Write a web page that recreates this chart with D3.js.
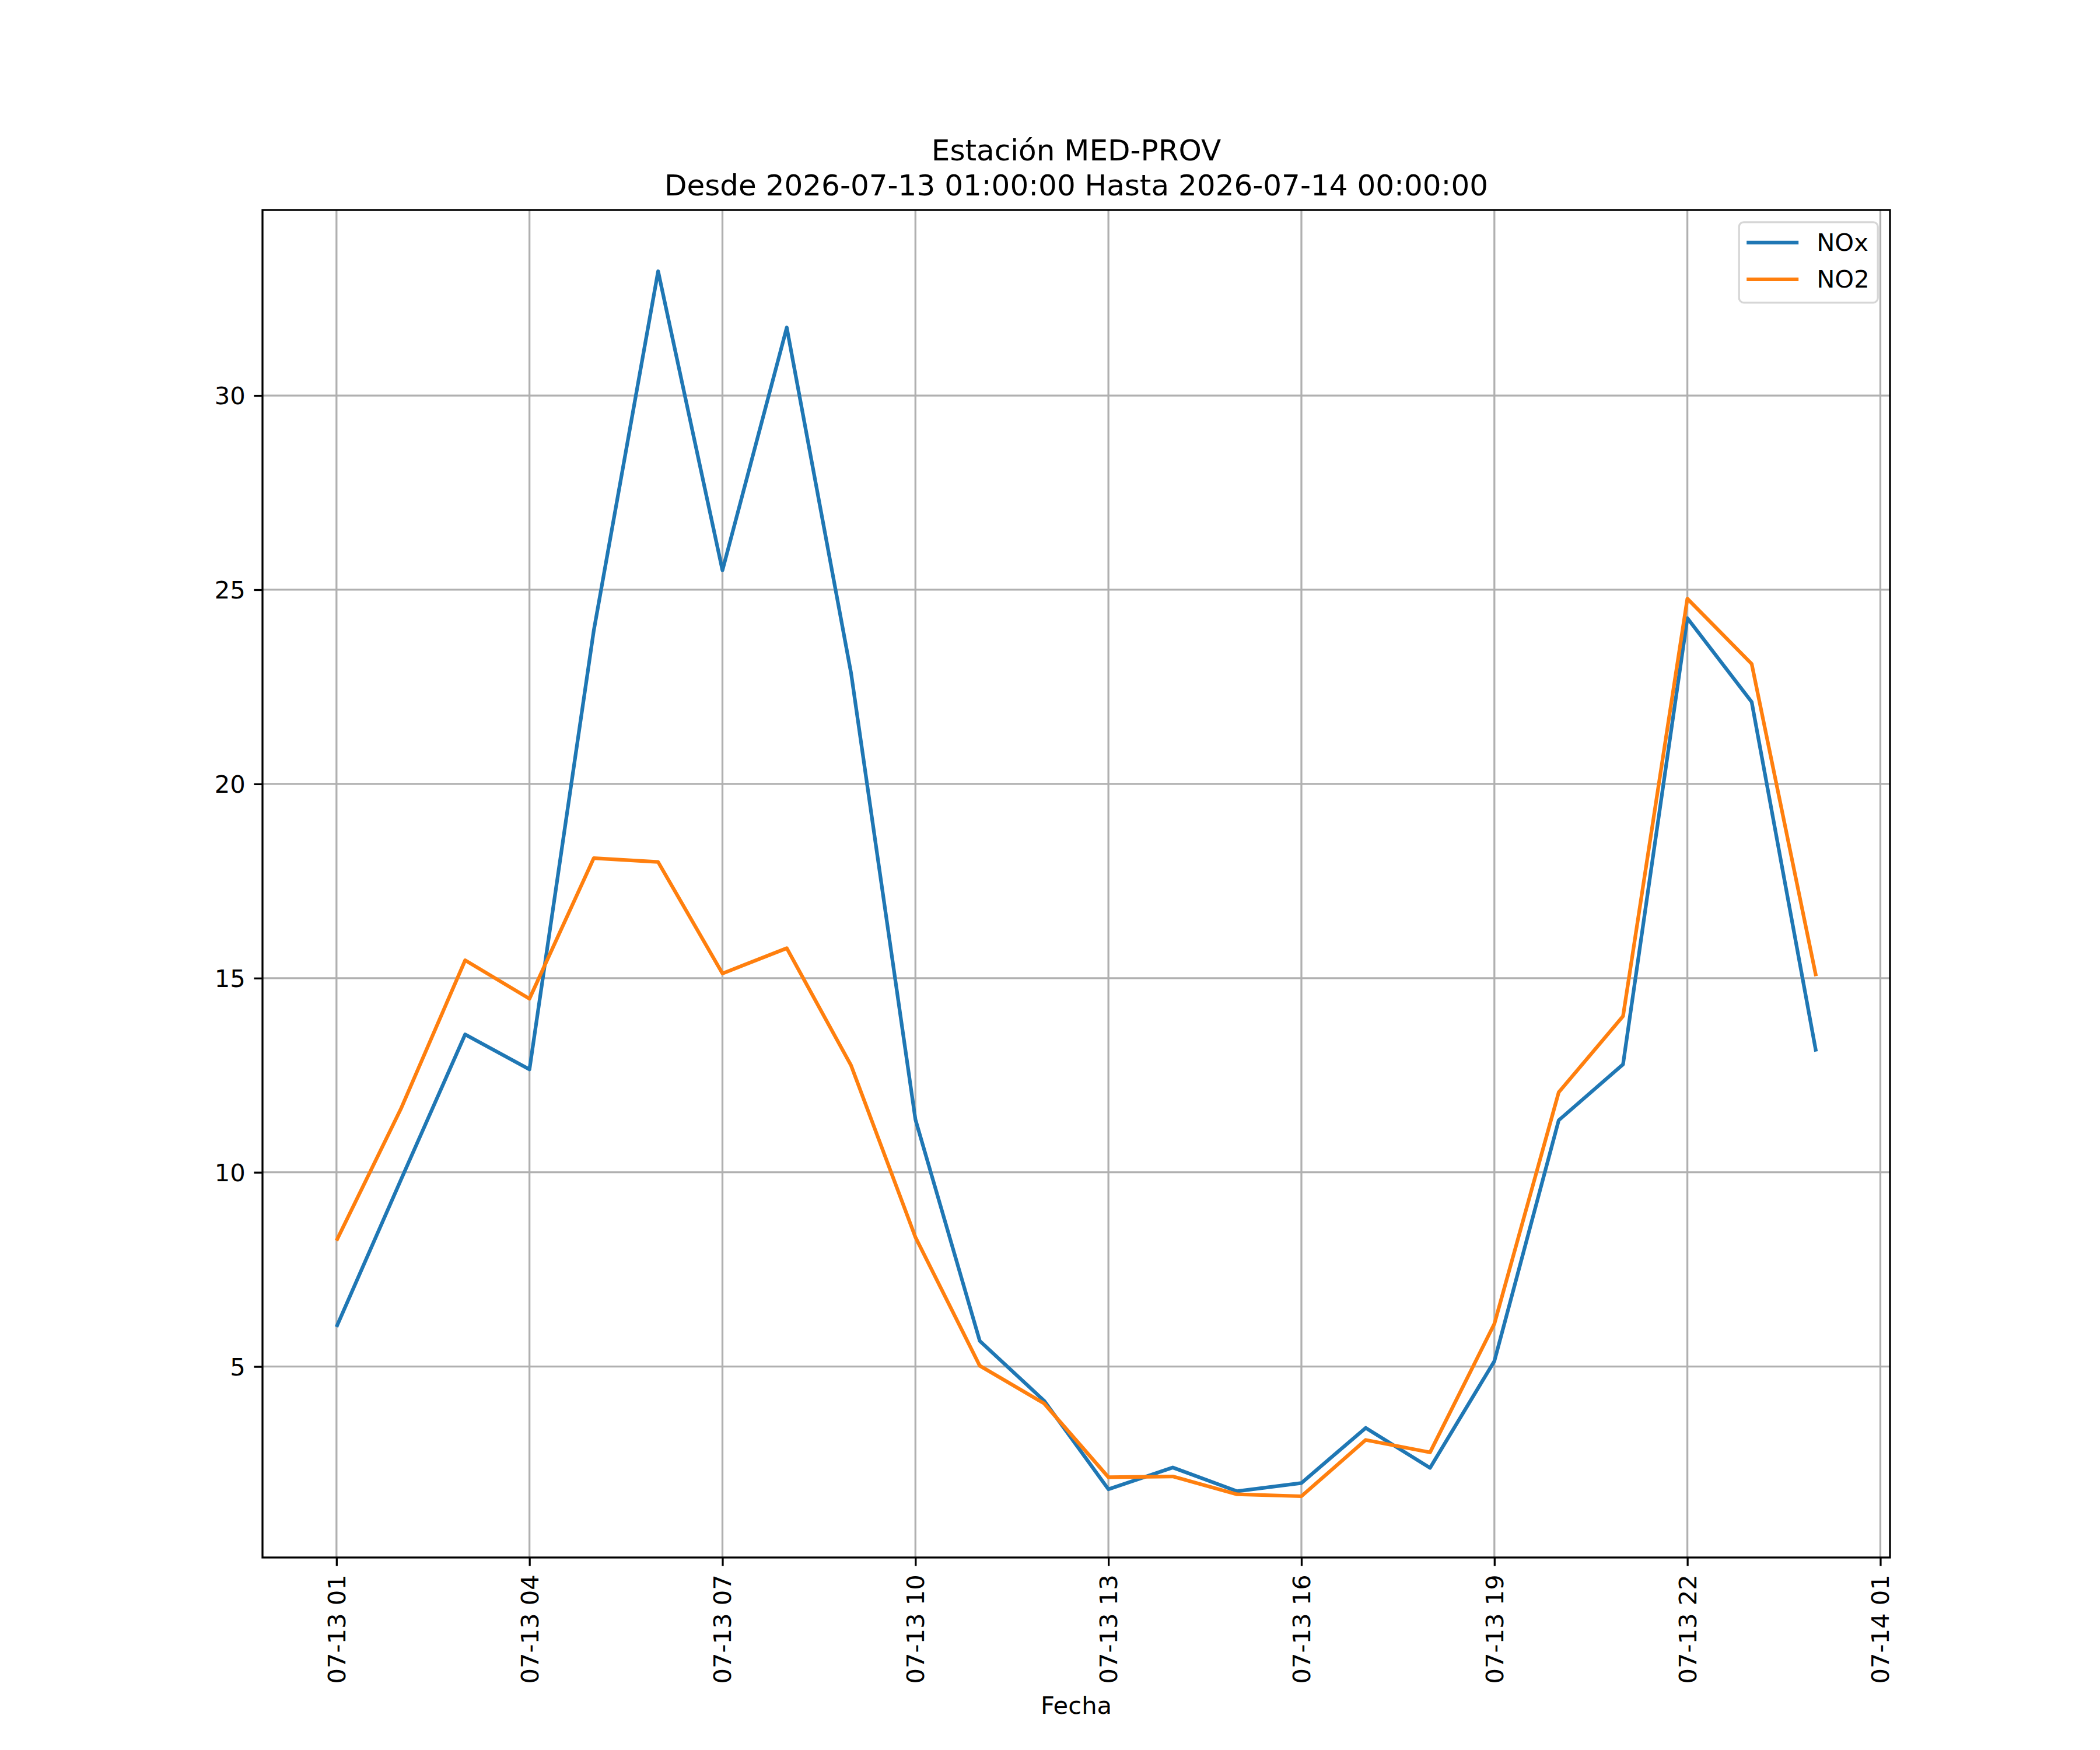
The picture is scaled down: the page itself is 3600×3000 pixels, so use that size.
<!DOCTYPE html>
<html>
<head>
<meta charset="utf-8">
<script src="https://cdn.jsdelivr.net/npm/d3@7"></script>
<style>
  body { margin: 0; background: #fff; }
  text { font-family: "DejaVu Sans", sans-serif; }
</style>
</head>
<body>
<div class="linechart"></div>
<script>
// hourly readings, 2026-07-13 01:00 .. 2026-07-14 00:00
let hours = [1, 2, 3, 4, 5, 6, 7, 8, 9, 10, 11, 12, 13, 14, 15, 16, 17, 18, 19, 20, 21, 22, 23, 24];
let nox = [6.02, 9.8, 13.55, 12.65, 23.95, 33.2, 25.5, 31.75, 22.85, 11.36, 5.66, 4.12,
           1.84, 2.4, 1.79, 2.0, 3.42, 2.39, 5.14, 11.34, 12.78, 24.27, 22.11, 13.11];
let no2 = [8.24, 11.63, 15.46, 14.47, 18.09, 17.99, 15.12, 15.77, 12.75, 8.33, 5.02, 4.05,
           2.15, 2.17, 1.71, 1.66, 3.11, 2.79, 6.1, 12.06, 14.02, 24.77, 23.09, 15.05];
let seriesNames = ["NOx", "NO2"];
let seriesColors = ["#1f77b4", "#ff7f0e"];
let yTicks = [5, 10, 15, 20, 25, 30];
let xTickHours = [1, 4, 7, 10, 13, 16, 19, 22, 25];
let titleLines = ["Estación MED-PROV", "Desde 2026-07-13 01:00:00 Hasta 2026-07-14 00:00:00"];
let xLabel = "Fecha";

let W = 3600, H = 3000;
let margin = {top: 360, right: 360, bottom: 330, left: 450};
let width = W - margin.left - margin.right,
    height = H - margin.top - margin.bottom;

let toDate = h => new Date(Date.UTC(2026, 6, 13, h));

let svg = d3.select(".linechart").append("svg")
    .attr("width", W)
    .attr("height", H)
    .style("display", "block");

let g = svg.append("g")
    .attr("transform", "translate(" + margin.left + "," + margin.top + ")");

// matplotlib style 5% margins on both axes
let t0 = toDate(hours[0]).getTime(), t1 = toDate(hours[hours.length - 1]).getTime();
let pad = (t1 - t0) * 0.05;
const xScale = d3.scaleUtc()
    .domain([new Date(t0 - pad), new Date(t1 + pad)])
    .range([0, width]);

let allVals = nox.concat(no2);
let ymin = d3.min(allVals), ymax = d3.max(allVals);
let ypad = (ymax - ymin) * 0.05;
const yScale = d3.scaleLinear()
    .domain([ymin - ypad, ymax + ypad])
    .range([height, 0]);

let xTicks = xTickHours.map(toDate);

// grid
g.append("g").selectAll("line").data(xTicks).join("line")
    .attr("x1", d => xScale(d)).attr("x2", d => xScale(d))
    .attr("y1", 0).attr("y2", height)
    .attr("stroke", "#b0b0b0").attr("stroke-width", 3.3);
g.append("g").selectAll("line").data(yTicks).join("line")
    .attr("x1", 0).attr("x2", width)
    .attr("y1", d => yScale(d)).attr("y2", d => yScale(d))
    .attr("stroke", "#b0b0b0").attr("stroke-width", 3.3);

// lines
let series = [nox, no2];
series.forEach(function(vals, i) {
    g.append("path")
        .datum(vals)
        .attr("fill", "none")
        .attr("stroke", seriesColors[i])
        .attr("stroke-width", 6.25)
        .attr("stroke-linejoin", "round")
        .attr("stroke-linecap", "butt")
        .attr("d", d3.line()
            .x((d, j) => xScale(toDate(hours[j])))
            .y(d => yScale(d)));
});

// axes
let xAxis = g.append("g")
    .attr("transform", `translate(0, ${height})`)
    .call(d3.axisBottom(xScale).tickValues(xTicks).tickFormat(d3.utcFormat("%m-%d %H"))
        .tickSize(14.6).tickPadding(14.6));
xAxis.select(".domain").remove();
xAxis.selectAll(".tick line").attr("stroke", "#000").attr("stroke-width", 3.3);
xAxis.selectAll(".tick text")
    .attr("font-size", 41.67)
    .attr("fill", "#000")
    .attr("text-anchor", "end")
    .attr("dominant-baseline", "central")
    .attr("dy", null)
    .attr("x", 0)
    .attr("y", 0)
    .attr("transform", "translate(0, 29.2) rotate(-90)");

let yAxis = g.append("g")
    .call(d3.axisLeft(yScale).tickValues(yTicks).tickFormat(d3.format("d"))
        .tickSize(14.6).tickPadding(14.6));
yAxis.select(".domain").remove();
yAxis.selectAll(".tick line").attr("stroke", "#000").attr("stroke-width", 3.3);
yAxis.selectAll(".tick text")
    .attr("font-size", 41.67)
    .attr("fill", "#000")
    .attr("dy", null)
    .attr("dominant-baseline", "central");

// frame
g.append("rect")
    .attr("width", width).attr("height", height)
    .attr("fill", "none").attr("stroke", "#000").attr("stroke-width", 3.3);

// title
svg.append("g").selectAll("text").data(titleLines).join("text")
    .attr("x", margin.left + width / 2)
    .attr("y", (d, i) => 275 + i * 60)
    .attr("text-anchor", "middle")
    .attr("font-size", 50)
    .text(d => d);

// x label
svg.append("text")
    .attr("x", margin.left + width / 2)
    .attr("y", 2923)
    .attr("text-anchor", "middle")
    .attr("dominant-baseline", "central")
    .attr("font-size", 41.67)
    .text(xLabel);

// legend
let lg = g.append("g").attr("transform", `translate(${width - 20.8 - 238}, 20.8)`);
lg.append("rect")
    .attr("width", 238).attr("height", 138)
    .attr("rx", 8).attr("ry", 8)
    .attr("fill", "#fff").attr("fill-opacity", 0.8)
    .attr("stroke", "#d6d6d6").attr("stroke-width", 3.3);
seriesNames.forEach(function(name, i) {
    let yy = 35 + i * 63;
    lg.append("line")
        .attr("x1", 13).attr("x2", 102)
        .attr("y1", yy).attr("y2", yy)
        .attr("stroke", seriesColors[i]).attr("stroke-width", 6.25);
    lg.append("text")
        .attr("x", 133).attr("y", yy)
        .attr("dominant-baseline", "central")
        .attr("font-size", 41.67)
        .text(name);
});
</script>
</body>
</html>
